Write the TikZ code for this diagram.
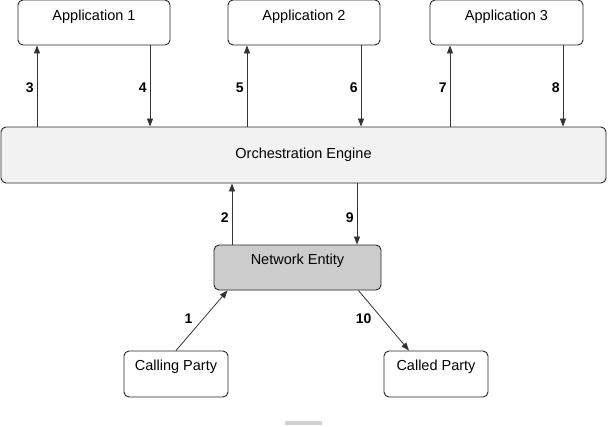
\documentclass[tikz,border=0pt]{standalone}
\usepackage{fontspec}
\setmainfont{Liberation Sans}
\usetikzlibrary{arrows.meta,calc}
\begin{document}
\begin{tikzpicture}[x=1pt,y=-1pt,
  box/.style={draw=black!85, line width=0.9pt, rounded corners=5pt, fill=white,
    inner sep=0pt, font=\fontsize{14.5}{16}\selectfont},
  arr/.style={draw=black!80, line width=0.8pt, -{Triangle[length=8pt,width=6pt]}},
  num/.style={font=\fontsize{14}{16}\selectfont\bfseries, inner sep=0pt}]
\useasboundingbox (0,0) rectangle (608,426);
% top applications
\node[box, minimum width=152pt, text height=20pt, text depth=25pt] (a1) at (94,22.5) {Application 1};
\node[box, minimum width=152pt, text height=20pt, text depth=25pt] (a2) at (304,22.5) {Application 2};
\node[box, minimum width=153pt, text height=20pt, text depth=25pt] (a3) at (506.5,22.5) {Application 3};
% orchestration engine
\node[box, fill=black!5, minimum width=605pt, text height=31pt, text depth=25pt] (oe) at (303.5,155) {Orchestration Engine};
% network entity
\node[box, fill=black!20, minimum width=167pt, text height=19pt, text depth=26pt] (ne) at (297.5,267.5) {Network Entity};
% parties
\node[box, minimum width=104pt, text height=19.5pt, text depth=26.5pt] (cp) at (176,374) {Calling Party};
\node[box, minimum width=104pt, text height=19.5pt, text depth=26.5pt] (dp) at (436,374) {Called Party};
% helper coordinates
\coordinate (p3) at ([xshift=-57pt]a1.south);
\coordinate (p4) at ([xshift=56pt]a1.south);
\coordinate (p5) at ([xshift=-57pt]a2.south);
\coordinate (p6) at ([xshift=57pt]a2.south);
\coordinate (p7) at ([xshift=-56.5pt]a3.south);
\coordinate (p8) at ([xshift=56.5pt]a3.south);
\coordinate (p2) at ([xshift=-65.5pt]ne.north);
\coordinate (p9) at ([xshift=59.5pt]ne.north);
% arrows to/from applications
\draw[arr] (p3 |- oe.north) -- (p3) node[num, midway, anchor=east, xshift=-3pt, yshift=-2pt] {3};
\draw[arr] (p4) -- (p4 |- oe.north) node[num, midway, anchor=east, xshift=-3pt, yshift=-2pt] {4};
\draw[arr] (p5 |- oe.north) -- (p5) node[num, midway, anchor=east, xshift=-3pt, yshift=-2pt] {5};
\draw[arr] (p6) -- (p6 |- oe.north) node[num, midway, anchor=east, xshift=-3pt, yshift=-2pt] {6};
\draw[arr] (p7 |- oe.north) -- (p7) node[num, midway, anchor=east, xshift=-3pt, yshift=-2pt] {7};
\draw[arr] (p8) -- (p8 |- oe.north) node[num, midway, anchor=east, xshift=-3pt, yshift=-2pt] {8};
% engine <-> network entity
\draw[arr] (p2) -- (p2 |- oe.south) node[num, midway, anchor=east, xshift=-3pt, yshift=-4pt] {2};
\draw[arr] (p9 |- oe.south) -- (p9) node[num, midway, anchor=east, xshift=-3pt, yshift=-4pt] {9};
% parties
\draw[arr] (cp.north) -- ([xshift=14pt]ne.south west) node[num, midway, anchor=east, xshift=-9pt, yshift=2pt] {1};
\draw[arr] ([xshift=-23pt]ne.south east) -- ([xshift=-27pt]dp.north) node[num, midway, anchor=east, xshift=-12pt, yshift=1.5pt] {10};
% small marker at bottom
\fill[black!18] (285,421) rectangle (322,425);
\end{tikzpicture}
\end{document}
